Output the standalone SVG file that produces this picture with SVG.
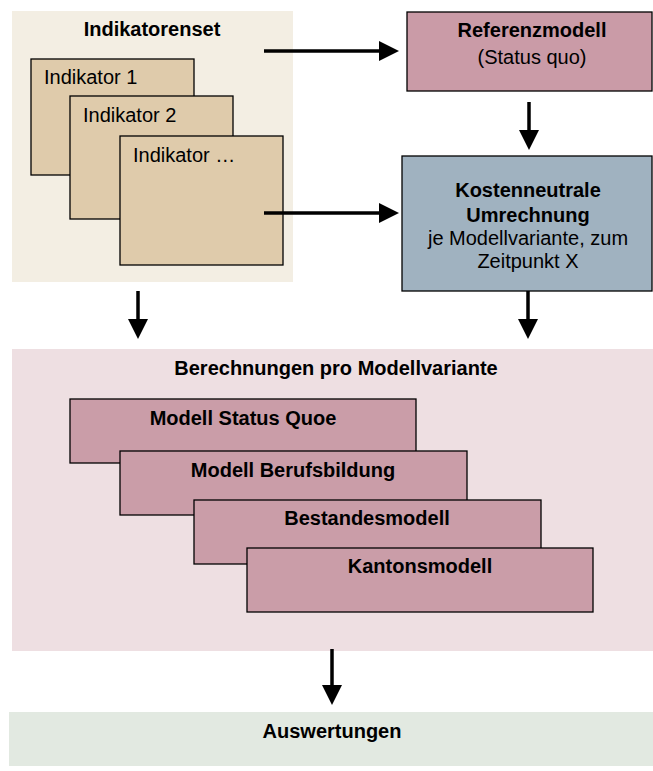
<svg xmlns="http://www.w3.org/2000/svg" width="653" height="771" viewBox="0 0 653 771">
<style>
text{font-family:"Liberation Sans",Arial,sans-serif;font-size:20px;fill:#000}
.b{font-weight:bold}
.m{text-anchor:middle}
.box{stroke:#000;stroke-width:1.3}
.ind{fill:#DFCBAB}
.mod{fill:#CA9DA8}
.con{stroke:#000;stroke-width:3.5;fill:none}
</style>
<defs>
<marker id="ah" markerUnits="userSpaceOnUse" markerWidth="20" markerHeight="20" refX="10" refY="10" orient="auto" viewBox="0 0 20 20">
<path d="M0,0 L20,10 L0,20 Z" fill="#000"/>
</marker>
</defs>
<rect width="653" height="771" fill="#fff"/>
<g id="indikatorenset">
<rect x="12" y="11" width="281" height="271" fill="#F3EEE3"/>
<text class="b m" x="152" y="36">Indikatorenset</text>
</g>
<g id="indikator1">
<rect class="box ind" x="31" y="59" width="163" height="116"/>
<text x="44" y="84">Indikator 1</text>
</g>
<g id="indikator2">
<rect class="box ind" x="70" y="96" width="163" height="123"/>
<text x="83" y="122">Indikator 2</text>
</g>
<g id="indikator3">
<rect class="box ind" x="120" y="136" width="163" height="129"/>
<text x="133" y="162">Indikator …</text>
</g>
<g id="referenzmodell">
<rect class="box" x="407" y="12" width="245" height="79" fill="#CA9BA7"/>
<text class="b m" x="532" y="37">Referenzmodell</text>
<text class="m" x="532" y="64">(Status quo)</text>
</g>
<g id="umrechnung">
<rect class="box" x="402" y="156" width="250" height="135" fill="#A0B2C0"/>
<text class="b m" x="528" y="197">Kostenneutrale</text>
<text class="b m" x="528" y="222">Umrechnung</text>
<text class="m" x="528" y="245">je Modellvariante, zum</text>
<text class="m" x="528" y="268">Zeitpunkt X</text>
</g>
<g id="berechnungen">
<rect x="12" y="349" width="641" height="302" fill="#EEDFE2"/>
<text class="b m" x="336" y="375">Berechnungen pro Modellvariante</text>
</g>
<g id="modell-status-quoe">
<rect class="box mod" x="70" y="399" width="346" height="64"/>
<text class="b m" x="243" y="425">Modell Status Quoe</text>
</g>
<g id="modell-berufsbildung">
<rect class="box mod" x="120" y="451" width="347" height="64"/>
<text class="b m" x="293" y="477">Modell Berufsbildung</text>
</g>
<g id="bestandesmodell">
<rect class="box mod" x="194" y="500" width="347" height="64"/>
<text class="b m" x="367" y="525">Bestandesmodell</text>
</g>
<g id="kantonsmodell">
<rect class="box mod" x="247" y="548" width="346" height="64"/>
<text class="b m" x="420" y="573">Kantonsmodell</text>
</g>
<g id="auswertungen">
<rect x="9" y="712" width="644" height="54" fill="#E2E9E1"/>
<text class="b m" x="332" y="738">Auswertungen</text>
</g>
<g id="connectors">
<line class="con" x1="264" y1="51" x2="389" y2="51" marker-end="url(#ah)"/>
<line class="con" x1="264" y1="213" x2="389" y2="213" marker-end="url(#ah)"/>
<line class="con" x1="529" y1="102" x2="529" y2="140" marker-end="url(#ah)"/>
<line class="con" x1="138" y1="291" x2="138" y2="329" marker-end="url(#ah)"/>
<line class="con" x1="528" y1="291" x2="528" y2="329" marker-end="url(#ah)"/>
<line class="con" x1="332" y1="649" x2="332" y2="695" marker-end="url(#ah)"/>
</g>
</svg>
